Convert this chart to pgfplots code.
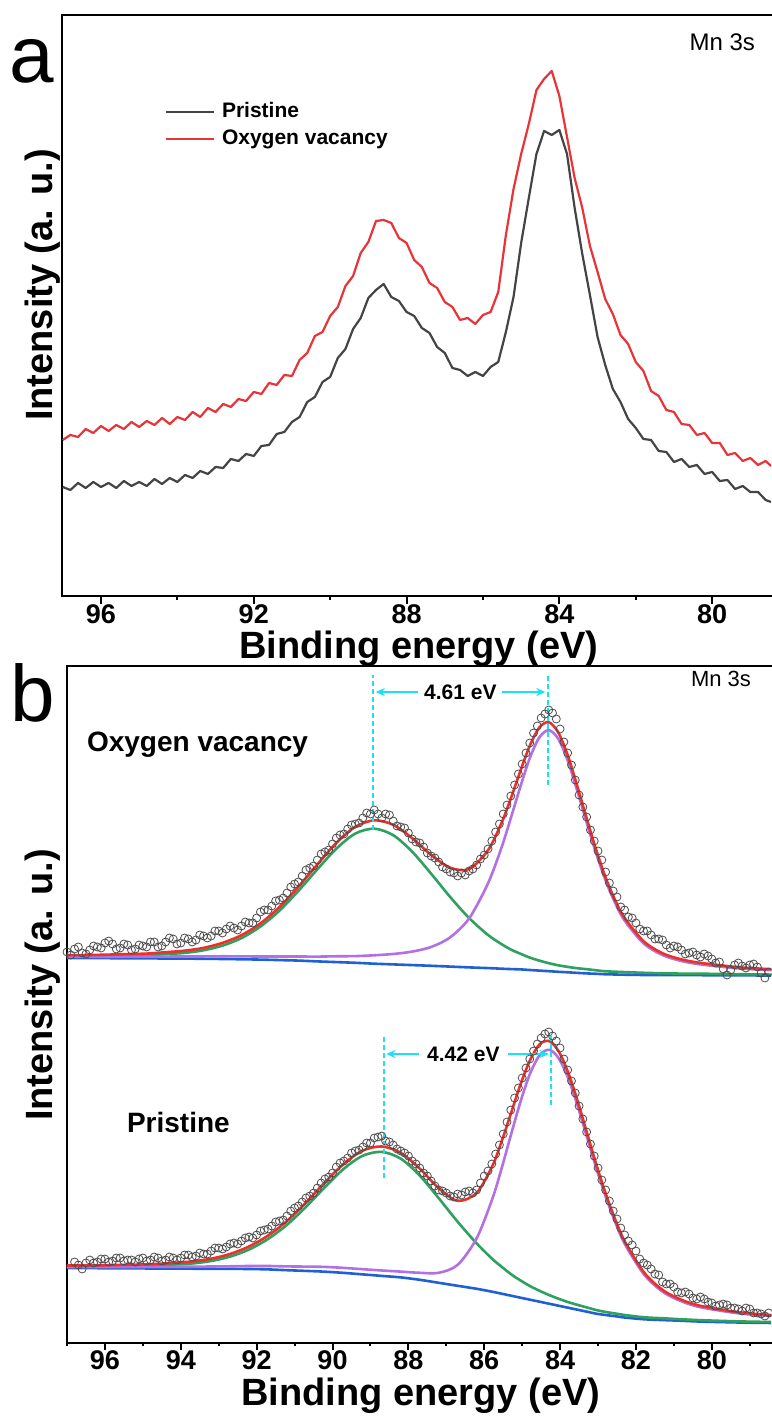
\documentclass[border=0pt]{standalone}
\usepackage{fontspec}
\setmainfont{Liberation Sans}
\usepackage{pgfplots}
\usepackage{pgfplotstable}
\pgfplotsset{compat=1.18}
\usetikzlibrary{arrows.meta}
\definecolor{ovred}{RGB}{232,52,56}
\definecolor{prgray}{RGB}{68,68,68}
\definecolor{fitred}{RGB}{236,48,42}
\definecolor{fitgreen}{RGB}{46,160,96}
\definecolor{fitpurple}{RGB}{178,112,226}
\definecolor{fitblue}{RGB}{32,96,214}
\definecolor{annocyan}{RGB}{24,226,244}

% panel a: x, pristine, oxygen vacancy
\pgfplotstableread{
x pr ov
97.0 95 142
96.8 92 147
96.6 99 145
96.4 94 153
96.2 100 149
96.0 95 156
95.8 99 151
95.6 94 157
95.4 101 153
95.2 96 160
95.0 100 155
94.8 96 161
94.6 103 157
94.4 98 164
94.2 104 158
94.0 100 165
93.8 107 162
93.6 104 170
93.4 111 165
93.2 108 174
93.0 115 170
92.8 114 178
92.6 123 175
92.4 121 183
92.2 128 181
92.0 126 190
91.8 136 188
91.6 137 199
91.4 148 197
91.2 150 207
91.0 160 206
90.8 165 222
90.6 180 229
90.4 185 246
90.2 200 250
90.0 205 266
89.8 224 275
89.6 233 296
89.4 253 306
89.2 264 329
89.0 284 340
88.8 292 361
88.6 298 362
88.4 285 359
88.2 281 344
88.0 270 339
87.8 266 322
87.6 254 315
87.4 249 299
87.2 235 294
87.0 229 280
86.8 214 275
86.6 212 262
86.4 206 264
86.2 210 258
86.0 206 267
85.8 215 270
85.6 220 290
85.4 250 347
85.2 285 393
85.0 339 428
84.8 384 458
84.6 428 492
84.4 451 503
84.2 447 511
84.0 452 486
83.8 428 445
83.6 374 404
83.4 328 374
83.2 287 336
83.0 245 310
82.8 217 283
82.6 193 268
82.4 180 247
82.2 163 238
82.0 154 220
81.8 143 211
81.6 142 191
81.4 131 186
81.2 130 172
81.0 120 170
80.8 123 158
80.6 115 157
80.4 117 147
80.2 108 149
80.0 110 139
79.8 101 139
79.6 102 127
79.4 93 129
79.2 96 121
79.0 90 124
78.8 90 117
78.6 82 121
78.46 80 116
}\dataA

% panel b, upper fit (oxygen vacancy): x, background, peak 1, peak 2, envelope
\pgfplotstableread{
x B G P R
97.0 377.0 378.6 378.2 379.8
96.4 376.9 378.8 378.1 380.0
95.9 376.8 379.0 378.2 380.4
95.4 376.7 379.3 378.3 380.9
94.9 376.6 379.7 378.3 381.4
94.4 376.5 380.9 378.4 382.8
93.9 376.4 382.1 378.6 384.3
93.4 376.2 384.7 378.6 387.1
92.9 376.0 389.4 378.7 392.1
92.4 375.7 396.9 378.6 399.8
91.9 375.4 408.5 378.5 411.6
91.4 374.9 424.3 378.5 427.9
90.9 374.4 444.1 378.5 448.2
90.4 373.6 465.7 378.4 470.5
89.9 372.9 486.3 378.7 492.1
89.4 372.2 501.4 378.9 508.1
88.9 371.3 506.3 379.7 514.7
88.4 370.6 499.8 381.0 510.2
87.9 369.9 483.3 383.4 496.8
87.4 369.2 461.3 388.0 480.1
86.9 368.4 438.1 397.6 467.3
86.4 367.6 417.0 416.5 465.9
85.9 366.9 400.0 451.7 484.8
85.55 366.3 391.0 486.8 511.5
85.3 365.9 385.5 516.8 536.4
85.05 365.6 381.3 548.0 563.7
84.8 365.0 377.4 576.8 589.2
84.55 364.4 374.4 597.4 607.4
84.3 363.8 371.8 604.8 612.8
84.05 363.2 369.7 596.2 602.7
83.8 362.7 368.1 574.5 579.9
83.55 362.1 366.8 544.5 549.2
83.3 361.6 365.8 512.5 516.7
83.05 361.2 364.7 481.7 485.2
82.8 360.7 363.7 454.4 457.4
82.55 360.5 363.3 432.1 434.9
82.3 360.3 362.9 414.5 417.1
81.8 360.0 362.2 391.6 393.8
81.3 359.9 361.7 379.9 381.7
80.8 359.8 361.4 374.0 375.6
80.3 359.8 361.3 370.6 372.1
79.3 359.6 360.8 366.6 367.8
78.4 359.5 360.4 364.8 365.7
}\fitTop

% panel b, lower fit (pristine)
\pgfplotstableread{
x B G P R
97.0 67.0 68.5 68.0 69.5
96.2 66.8 68.5 68.0 69.7
95.7 66.7 68.7 68.0 70.0
95.2 66.6 69.0 68.0 70.4
94.7 66.5 69.4 68.1 71.0
94.2 66.4 70.4 68.2 72.2
93.7 66.3 71.5 68.3 73.5
93.2 66.2 74.0 68.5 76.3
92.7 66.1 78.4 68.7 81.0
92.2 66.0 85.5 69.0 88.5
91.7 65.6 96.0 69.0 99.4
91.2 64.8 110.2 68.6 114.0
90.7 64.1 128.1 68.4 132.4
90.2 63.3 147.9 68.1 152.7
89.7 62.1 166.3 67.1 171.3
89.2 60.6 179.3 65.8 184.5
88.7 59.1 183.1 64.5 188.5
88.2 57.6 176.3 63.4 182.1
87.7 55.2 159.4 62.2 166.4
87.2 52.2 136.8 62.2 146.8
86.7 49.2 113.2 70.2 134.2
86.2 46.2 91.6 96.7 142.1
85.78 43.2 75.8 136.9 169.5
85.53 41.2 67.9 168.2 194.9
85.28 39.2 60.4 202.3 223.5
85.03 37.2 54.2 235.1 252.1
84.78 35.2 48.6 262.5 275.9
84.53 33.2 44.0 280.3 291.1
84.28 31.2 39.8 285.2 293.8
84.03 29.2 36.1 276.3 283.2
83.78 27.2 32.8 256.1 261.7
83.53 25.2 30.0 228.1 232.9
83.28 23.2 27.4 196.4 200.6
83.03 21.2 24.8 165.0 168.6
82.78 19.9 22.9 136.5 139.5
82.53 18.7 21.4 111.2 113.9
82.28 17.4 19.9 90.0 92.5
81.78 15.7 17.7 60.2 62.2
81.28 14.9 16.7 42.8 44.6
80.78 14.2 15.7 33.4 34.9
80.28 13.4 14.8 27.6 29.0
79.28 12.5 13.6 21.6 22.7
78.4 12.0 13.0 18.9 19.9
}\fitBot

\pgfplotstableread{
x y
97.0 383
96.9 380
96.8 386
96.7 388
96.6 382
96.5 381
96.4 385
96.3 389
96.2 388
96.1 387
96.0 392
95.9 394
95.8 391
95.7 386
95.6 387
95.5 391
95.4 390
95.3 385
95.2 386
95.1 390
95.0 389
94.9 388
94.8 393
94.7 393
94.6 388
94.5 389
94.4 393
94.3 397
94.2 396
94.1 391
94.0 392
93.9 397
93.8 396
93.7 393
93.6 395
93.5 400
93.4 399
93.3 397
93.2 399
93.1 404
93.0 404
92.9 402
92.8 406
92.7 409
92.6 407
92.5 405
92.4 409
92.3 413
92.2 412
92.1 412
92.0 417
91.9 423
91.8 425
91.7 425
91.6 429
91.5 434
91.4 435
91.3 437
91.2 442
91.1 448
91.0 451
90.9 453
90.8 459
90.7 465
90.6 467
90.5 469
90.4 475
90.3 481
90.2 483
90.1 485
90.0 491
89.9 497
89.8 500
89.7 501
89.6 506
89.5 510
89.4 511
89.3 512
89.2 517
89.1 522
89.0 521
88.9 525
88.8 521
88.7 517
88.6 521
88.5 520
88.4 514
88.3 509
88.2 508
88.1 507
88.0 502
87.9 496
87.8 493
87.7 492
87.6 488
87.5 482
87.4 479
87.3 477
87.2 473
87.1 468
87.0 466
86.9 463
86.8 462
86.7 459
86.6 462
86.5 460
86.4 464
86.3 466
86.2 470
86.1 476
86.0 480
85.9 486
85.8 494
85.7 503
85.6 511
85.5 521
85.4 530
85.3 539
85.2 550
85.1 561
85.0 571
84.9 582
84.8 592
84.7 602
84.6 609
84.5 617
84.4 621
84.3 625
84.2 622
84.1 616
84.0 606
83.9 593
83.8 582
83.7 570
83.6 555
83.5 540
83.4 528
83.3 518
83.2 505
83.1 494
83.0 484
82.9 475
82.8 463
82.7 452
82.6 444
82.5 438
82.4 428
82.3 425
82.2 418
82.1 417
82.0 412
81.9 406
81.8 404
81.7 404
81.6 400
81.5 396
81.4 396
81.3 395
81.2 390
81.1 387
81.0 389
80.9 388
80.8 385
80.7 381
80.6 382
80.5 383
80.4 380
80.3 378
80.2 381
80.1 379
80.0 376
79.9 372
79.8 373
79.7 366
79.6 360
79.5 365
79.4 370
79.3 372
79.2 369
79.1 367
79.0 370
78.9 371
78.8 368
78.7 362
78.6 357
78.5 363
}\ptsTop

\pgfplotstableread{
x y
96.8 73
96.7 70
96.6 66
96.5 72
96.4 75
96.3 72
96.2 73
96.1 76
96.0 76
95.9 73
95.8 74
95.7 77
95.6 77
95.5 74
95.4 75
95.3 75
95.2 73
95.1 76
95.0 77
94.9 74
94.8 75
94.7 78
94.6 77
94.5 74
94.4 75
94.3 78
94.2 77
94.1 75
94.0 77
93.9 80
93.8 80
93.7 78
93.6 79
93.5 82
93.4 81
93.3 81
93.2 84
93.1 87
93.0 87
92.9 86
92.8 88
92.7 91
92.6 92
92.5 91
92.4 94
92.3 97
92.2 98
92.1 97
92.0 100
91.9 104
91.8 105
91.7 106
91.6 109
91.5 113
91.4 114
91.3 115
91.2 119
91.1 124
91.0 127
90.9 129
90.8 133
90.7 137
90.6 139
90.5 142
90.4 147
90.3 152
90.2 156
90.1 158
90.0 162
89.9 168
89.8 172
89.7 174
89.6 177
89.5 182
89.4 184
89.3 185
89.2 188
89.1 192
89.0 192
88.9 197
88.8 198
88.7 199
88.6 194
88.5 193
88.4 190
88.3 186
88.2 184
88.1 182
88.0 179
87.9 174
87.8 171
87.7 167
87.6 162
87.5 159
87.4 154
87.3 149
87.2 145
87.1 144
87.0 142
86.9 139
86.8 138
86.7 141
86.6 140
86.5 143
86.4 144
86.3 142
86.2 145
86.1 152
86.0 159
85.9 164
85.8 171
85.7 181
85.6 190
85.5 201
85.4 213
85.3 225
85.2 237
85.1 247
85.0 257
84.9 267
84.8 276
84.7 284
84.6 291
84.5 297
84.4 301
84.3 303
84.2 299
84.1 294
84.0 287
83.9 276
83.8 265
83.7 254
83.6 242
83.5 229
83.4 216
83.3 203
83.2 191
83.1 179
83.0 167
82.9 155
82.8 145
82.7 134
82.6 124
82.5 116
82.4 107
82.3 100
82.2 94
82.1 90
82.0 84
81.9 76
81.8 72
81.7 70
81.6 66
81.5 61
81.4 60
81.3 53
81.2 51
81.1 51
81.0 48
80.9 43
80.8 42
80.7 43
80.6 41
80.5 37
80.4 36
80.3 38
80.2 36
80.1 33
80.0 32
79.9 29
79.8 30
79.7 31
79.6 30
79.5 27
79.4 27
79.3 26
79.2 24
79.1 27
79.0 26
78.9 22
78.8 22
78.7 21
78.6 19
78.5 22
}\ptsBot

\pgfplotsset{
  xpsaxis/.style={
    anchor=south west, scale only axis,
    x dir=reverse,
    axis x line*=box, axis y line*=left,
    xtick pos=left,
    ytick=\empty,
    tick align=outside,
    every tick/.append style={black, line width=1pt},
    axis line style={black, line width=1.1pt, line cap=rect},
    xticklabel style={font=\bfseries\fontsize{13.5}{13.5}\selectfont, yshift=3pt},
  },
}

\begin{document}
\begin{tikzpicture}
\useasboundingbox (0pt,0pt) rectangle (385.5pt,708.5pt);

% ---------------- panel a ----------------
\begin{axis}[xpsaxis,
  at={(31pt,410.5pt)}, width=354.5pt, height=290.5pt,
  xmin=78.46, xmax=97.02, ymin=-14, ymax=567,
  xtick={80,84,88,92,96}, xticklabels={80,84,88,92,96},
  minor xtick={82,86,90,94},
  major tick length=4pt, minor tick length=2pt,
  legend style={at={(axis description cs:0.145,0.850)}, anchor=north west,
    draw=none, fill=none, inner sep=0pt, outer sep=0pt, row sep=3.6pt,
    font=\bfseries\fontsize{10.5}{12}\selectfont,
    nodes={inner sep=0pt, text height=7.7pt, text depth=2.2pt},
    /tikz/every odd column/.append style={column sep=3.5pt}},
  legend cell align=left,
  legend image code/.code={\draw[#1] (0pt,0pt) -- (24pt,0pt);},
]
\addplot[prgray, line width=1.1pt, line join=round] table[x=x, y=pr] {\dataA};
\addlegendentry{Pristine}
\addplot[ovred, line width=1.1pt, line join=round] table[x=x, y=ov] {\dataA};
\addlegendentry{Oxygen vacancy}
\end{axis}

% ---------------- panel b ----------------
\begin{axis}[xpsaxis,
  at={(33.5pt,37pt)}, width=352pt, height=338.5pt,
  xmin=78.44, xmax=97.0, ymin=-8, ymax=669,
  xtick={80,82,84,86,88,90,92,94,96}, xticklabels={80,82,84,86,88,90,92,94,96},
  minor xtick={79,81,83,85,87,89,91,93,95,97},
  major tick length=3.5pt, minor tick length=1.75pt,
]
\addplot[only marks, mark=o, mark size=2pt, mark options={draw=black!70, line width=0.4pt}] table[x=x, y=y] {\ptsTop};
\addplot[only marks, mark=o, mark size=2pt, mark options={draw=black!70, line width=0.4pt}] table[x=x, y=y] {\ptsBot};

\addplot[fitblue, line width=1.3pt, smooth] table[x=x, y=B] {\fitTop};
\addplot[fitgreen, line width=1.3pt, smooth] table[x=x, y=G] {\fitTop};
\addplot[fitpurple, line width=1.3pt, smooth] table[x=x, y=P] {\fitTop};
\addplot[fitred, line width=1.3pt, smooth] table[x=x, y=R] {\fitTop};

\addplot[fitblue, line width=1.3pt, smooth] table[x=x, y=B] {\fitBot};
\addplot[fitgreen, line width=1.3pt, smooth] table[x=x, y=G] {\fitBot};
\addplot[fitpurple, line width=1.3pt, smooth] table[x=x, y=P] {\fitBot};
\addplot[fitred, line width=1.3pt, smooth] table[x=x, y=R] {\fitBot};

% splitting annotations
\draw[annocyan, line width=0.9pt, dash pattern=on 2.5pt off 1.5pt] (axis cs:88.93,505) -- (axis cs:88.93,660);
\draw[annocyan, line width=0.9pt, dash pattern=on 2.5pt off 1.5pt] (axis cs:84.32,550) -- (axis cs:84.32,660);
\draw[annocyan, line width=0.9pt, -{Stealth[length=4.5pt,width=4pt]}] (axis cs:87.75,643) -- (axis cs:88.86,643);
\draw[annocyan, line width=0.9pt, -{Stealth[length=4.5pt,width=4pt]}] (axis cs:85.53,643) -- (axis cs:84.39,643);
\node[font=\bfseries\fontsize{10.5}{12}\selectfont] at (axis cs:86.63,643) {4.61 eV};

\draw[annocyan, line width=0.9pt, dash pattern=on 2.5pt off 1.5pt] (axis cs:88.65,157) -- (axis cs:88.65,300);
\draw[annocyan, line width=0.9pt, dash pattern=on 2.5pt off 1.5pt] (axis cs:84.23,230) -- (axis cs:84.23,300);
\draw[annocyan, line width=0.9pt, -{Stealth[length=4.5pt,width=4pt]}] (axis cs:87.72,281) -- (axis cs:88.58,281);
\draw[annocyan, line width=0.9pt, -{Stealth[length=4.5pt,width=4pt]}] (axis cs:85.38,281) -- (axis cs:84.30,281);
\node[font=\bfseries\fontsize{10.5}{12}\selectfont] at (axis cs:86.55,281) {4.42 eV};
\end{axis}

% ---------------- labels ----------------
\node[anchor=base, font=\fontsize{40}{40}\selectfont] at (16pt,667pt) {a};
\node[anchor=base, font=\fontsize{40}{40}\selectfont] at (16.5pt,347.5pt) {b};
\node[anchor=base east, font=\fontsize{12}{12}\selectfont] at (381pt,683pt) {Mn 3s};
\node[anchor=base east, font=\fontsize{11}{11}\selectfont] at (379pt,365pt) {Mn 3s};
\node[anchor=base, rotate=90, font=\bfseries\fontsize{19}{19}\selectfont] at (26pt,566pt) {Intensity (a. u.)};
\node[anchor=base, rotate=90, font=\bfseries\fontsize{19}{19}\selectfont] at (26pt,216pt) {Intensity (a. u.)};
\node[anchor=base, font=\bfseries\fontsize{19}{19}\selectfont] at (209.5pt,379pt) {Binding energy (eV)};
\node[anchor=base, font=\bfseries\fontsize{19}{19}\selectfont] at (210.5pt,5.5pt) {Binding energy (eV)};
\node[anchor=west, font=\bfseries\fontsize{14}{14}\selectfont] at (40pt,336pt) {Oxygen vacancy};
\node[anchor=west, font=\bfseries\fontsize{14}{14}\selectfont] at (60pt,147.5pt) {Pristine};
\end{tikzpicture}
\end{document}
